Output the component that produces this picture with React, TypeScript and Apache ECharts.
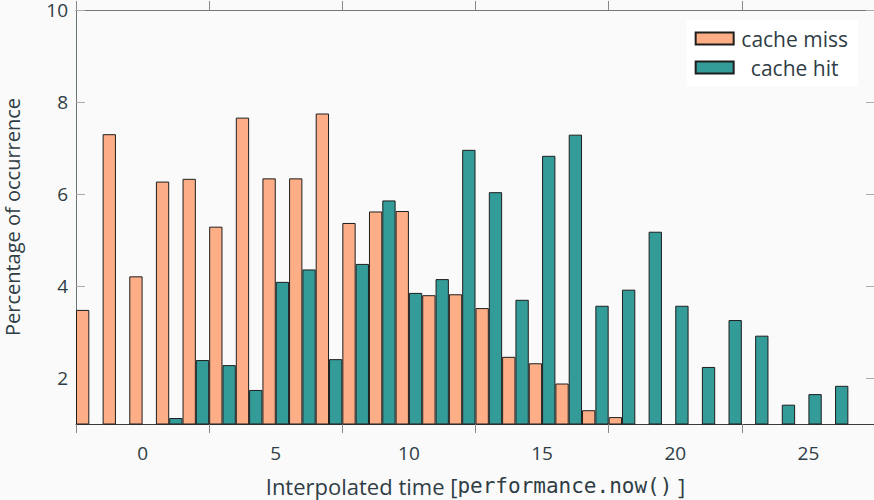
import React, { useEffect, useRef } from "react";
import * as echarts from "echarts";

const categories = [
  "-2", "-1", "0", "1", "2", "3", "4", "5", "6", "7", "8", "9", "10", "11", "12",
  "13", "14", "15", "16", "17", "18", "19", "20", "21", "22", "23", "24", "25", "26", "27",
];
const cacheMiss = [
  3.48, 7.3, 4.21, 6.27, 6.33, 5.29, 7.66, 6.34, 6.34, 7.75, 5.37, 5.62, 5.63, 3.8, 3.82,
  3.52, 2.46, 2.32, 1.88, 1.3, 1.15, null, null, null, null, null, null, null, null, null,
];
const cacheHit = [
  null, null, null, 1.13, 2.39, 2.28, 1.74, 4.09, 4.36, 2.41, 4.48, 5.86, 3.85, 4.15, 6.96,
  6.04, 3.7, 6.83, 7.29, 3.57, 3.92, 5.18, 3.57, 2.24, 3.26, 2.92, 1.42, 1.65, 1.83, null,
];
const yTicks = [2, 4, 6, 8, 10];
const xLabelValues = ["0", "5", "10", "15", "20", "25"];

const TEXT = "#2f3d45";
const FONT = "'Open Sans', 'DejaVu Sans', sans-serif";

export default function App() {
  const ref = useRef<HTMLDivElement>(null);
  useEffect(() => {
    if (!ref.current) return;
    const chart = echarts.init(ref.current, undefined, { renderer: "svg" });
    const tickIdx = (i: number) => i % 5 === 0;
    chart.setOption({
      animation: false,
      backgroundColor: "#fafafa",
      textStyle: { fontFamily: FONT, color: TEXT },
      grid: { left: 76, top: 10, width: 799, height: 414, containLabel: false, outerBoundsMode: "none" },
      legend: {
        orient: "vertical",
        right: 16,
        top: 20,
        align: "left",
        icon: "rect",
        backgroundColor: "#ffffff",
        padding: [8, 10, 8, 8],
        itemWidth: 38,
        itemHeight: 12,
        itemGap: 8,
        formatter: "{c|{name}}",
        textStyle: {
          fontSize: 21,
          color: TEXT,
          fontFamily: FONT,
          rich: { c: { width: 112, align: "center", fontSize: 21, color: TEXT, fontFamily: FONT } },
        },
        data: ["cache miss", "cache hit"],
      },
      xAxis: [
        {
          type: "category",
          data: categories,
          position: "bottom",
          boundaryGap: true,
          axisLine: { lineStyle: { color: "#3a3a3a", width: 1 } },
          axisTick: { show: true, inside: false, length: 9, interval: tickIdx, lineStyle: { color: "#888" } },
          axisLabel: {
            interval: (_i: number, v: string) => xLabelValues.indexOf(v) >= 0,
            fontSize: 19,
            color: TEXT,
            margin: 19,
            fontFamily: FONT,
          },
          splitLine: { show: false },
          name: "{a|Interpolated time [}{b|performance.now()}{a| ]}",
          nameLocation: "middle",
          nameGap: 51,
          nameTextStyle: {
            rich: {
              a: { fontSize: 22, color: TEXT, fontFamily: FONT },
              b: { fontSize: 21, color: TEXT, fontFamily: "'DejaVu Sans Mono', 'Liberation Mono', monospace" },
            },
          },
        },
        {
          type: "category",
          data: categories,
          position: "top",
          boundaryGap: true,
          axisLine: { lineStyle: { color: "#777", width: 1 } },
          axisTick: { show: true, inside: false, length: 9, interval: tickIdx, lineStyle: { color: "#888" } },
          axisLabel: { show: false },
          splitLine: { show: false },
        },
      ],
      yAxis: [
        {
          type: "value",
          min: 1,
          max: 10,
          position: "left",
          axisLine: { show: true, lineStyle: { color: "#6a7378", width: 1 } },
          axisTick: { show: true, inside: true, length: 9, customValues: yTicks, lineStyle: { color: "#aaa" } },
          axisLabel: { customValues: yTicks, fontSize: 19, color: TEXT, margin: 8, fontFamily: FONT },
          splitLine: { show: false },
          name: "Percentage of occurrence",
          nameLocation: "middle",
          nameGap: 54,
          nameTextStyle: { fontSize: 20, color: TEXT, fontFamily: FONT },
        },
        {
          type: "value",
          min: 1,
          max: 10,
          position: "right",
          axisLine: { show: true, lineStyle: { color: "#6a7378", width: 1 } },
          axisTick: { show: true, inside: true, length: 9, customValues: yTicks, lineStyle: { color: "#aaa" } },
          axisLabel: { show: false },
          splitLine: { show: false },
        },
      ],
      series: [
        {
          name: "cache miss",
          type: "bar",
          data: cacheMiss,
          barGap: "0%",
          barCategoryGap: "0%",
          itemStyle: { color: "#fdae87", borderColor: "#1e1e1e", borderWidth: 1 },
        },
        {
          name: "cache hit",
          type: "bar",
          data: cacheHit,
          barGap: "0%",
          barCategoryGap: "0%",
          itemStyle: { color: "#339b98", borderColor: "#1e1e1e", borderWidth: 1 },
        },
      ],
    });
    return () => chart.dispose();
  }, []);
  return (
    <div
      ref={ref}
      style={{ position: "fixed", left: 0, top: 0, width: 874, height: 500 }}
    />
  );
}
